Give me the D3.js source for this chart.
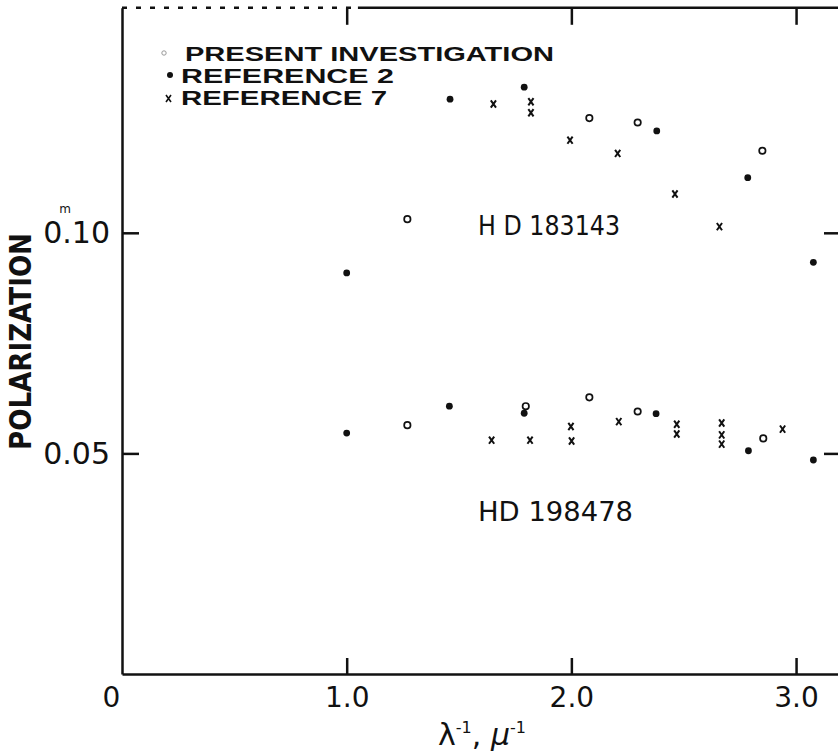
<!DOCTYPE html>
<html>
<head>
<meta charset="utf-8">
<script src="https://cdnjs.cloudflare.com/ajax/libs/d3/7.8.5/d3.min.js"></script>
<style>
  body { margin: 0; background: #fff; }
  svg { display: block; }
  .axis path, .axis line { stroke: #111; stroke-width: 2.5; }
  .axis text { font-family: "DejaVu Sans", sans-serif; fill: #111; }
</style>
</head>
<body>
<div id="chart"></div>
<script>
// HD 183143 (upper group)  [inverse wavelength, polarization]
const hd183143Present = [[1.27, 0.1031], [2.08, 0.1260], [2.295, 0.1250], [2.85, 0.1186]];
const hd183143Ref2 = [[1.00, 0.0909], [1.46, 0.1303], [1.79, 0.1330], [2.38, 0.1231], [2.785, 0.1125], [3.077, 0.0933]];
const hd183143Ref7 = [[1.653, 0.1292], [1.82, 0.1297], [1.82, 0.1272], [1.994, 0.1210], [2.206, 0.1180], [2.461, 0.1088], [2.659, 0.1014]];

// HD 198478 (lower group)
const hd198478Present = [[1.27, 0.0564], [1.797, 0.0607], [2.08, 0.0627], [2.295, 0.0595], [2.854, 0.0534]];
const hd198478Ref2 = [[1.00, 0.0546], [1.457, 0.0607], [1.79, 0.0591], [2.377, 0.0590], [2.788, 0.0506], [3.077, 0.0485]];
const hd198478Ref7 = [[1.645, 0.0530], [1.816, 0.0530], [1.998, 0.0561], [2.001, 0.0528], [2.211, 0.0572],
  [2.469, 0.0566], [2.469, 0.0544], [2.669, 0.0569], [2.669, 0.0542], [2.669, 0.0521], [2.94, 0.0555]];

const xTicks = [0, 1, 2, 3];
const xTickLabels = ['0', '1.0', '2.0', '3.0'];
const yTicks = [0.05, 0.10];
const yTickLabels = ['0.05', '0.10'];
const legendLabels = ['PRESENT INVESTIGATION', 'REFERENCE  2', 'REFERENCE  7'];

const width = 838, height = 754;
const svg = d3.select('#chart').append('svg')
  .attr('width', width)
  .attr('height', height);

const x = d3.scaleLinear().domain([0, 3.2]).range([122, 841]);
const y = d3.scaleLinear().domain([0, 0.151]).range([674, 7.8]);

// axes
const gx = svg.append('g').attr('class', 'axis')
  .attr('transform', `translate(0,${y(0)})`)
  .call(d3.axisBottom(x).tickValues(xTicks).tickSizeInner(-16).tickSizeOuter(0).tickPadding(13)
    .tickFormat((d, i) => xTickLabels[i]));
gx.selectAll('text').attr('font-size', 28)
  .attr('dx', d => d === 0 ? -11 : 0);
gx.selectAll('.tick').filter(d => d === 0).select('line').remove();

const gy = svg.append('g').attr('class', 'axis')
  .attr('transform', `translate(${x(0)},0)`)
  .call(d3.axisLeft(y).tickValues(yTicks).tickSizeInner(-17).tickSizeOuter(0).tickPadding(12)
    .tickFormat((d, i) => yTickLabels[i]));
gy.selectAll('text').attr('font-size', 30);
// superscript m over the decimal point of 0.10
gy.selectAll('.tick').filter(d => d === 0.10).append('text')
  .attr('x', -57).attr('y', -20)
  .attr('font-size', 12)
  .attr('text-anchor', 'middle')
  .text('m');

// top frame: ticks from the axis, border drawn separately (scan is broken on the left)
const gTop = svg.append('g').attr('class', 'axis')
  .attr('transform', `translate(0,${y(0.151)})`)
  .call(d3.axisTop(x).tickValues([1, 2, 3]).tickSizeInner(-17).tickSizeOuter(0).tickFormat(''));
gTop.select('.domain').remove();
gTop.selectAll('.tick line').attr('stroke', '#111').attr('stroke-width', 2.2);
gTop.append('line')
  .attr('x1', x(0)).attr('x2', x(1.05)).attr('y1', 0).attr('y2', 0)
  .attr('stroke', '#111').attr('stroke-width', 1.5).attr('stroke-dasharray', '5,9');
gTop.append('line')
  .attr('x1', x(1.05)).attr('x2', x(3.2)).attr('y1', 0).attr('y2', 0)
  .attr('stroke', '#111').attr('stroke-width', 2);

svg.append('g').attr('class', 'axis')
  .attr('transform', `translate(${x(3.2)},0)`)
  .call(d3.axisRight(y).tickValues(yTicks).tickSizeInner(-17).tickSizeOuter(0).tickFormat(''));

// axis titles
svg.append('text')
  .attr('transform', `translate(31,${(233 + 450) / 2}) rotate(-90)`)
  .attr('text-anchor', 'middle')
  .attr('font-family', 'DejaVu Sans, sans-serif')
  .attr('font-weight', 'bold')
  .attr('font-size', 30)
  .attr('textLength', 217)
  .attr('lengthAdjust', 'spacingAndGlyphs')
  .attr('fill', '#111')
  .text('POLARIZATION');

const xTitle = svg.append('text')
  .attr('x', 482).attr('y', 745)
  .attr('text-anchor', 'middle')
  .attr('font-family', 'DejaVu Sans, sans-serif')
  .attr('font-size', 30)
  .attr('fill', '#111');
xTitle.append('tspan').text('λ');
xTitle.append('tspan').attr('dy', -12).attr('font-size', 16).text('-1');
xTitle.append('tspan').attr('dy', 12).text(', ');
xTitle.append('tspan').attr('font-style', 'italic').text('μ');
xTitle.append('tspan').attr('dy', -12).attr('font-size', 16).text('-1');

// star labels
const starLabels = [
  { text: 'H D 183143', x: 478, y: 235, len: 142 },
  { text: 'HD 198478', x: 478, y: 521, len: 155 }
];
svg.selectAll('.star').data(starLabels).enter().append('text')
  .attr('x', d => d.x).attr('y', d => d.y)
  .attr('font-family', 'DejaVu Sans, sans-serif')
  .attr('font-size', 27)
  .attr('textLength', d => d.len)
  .attr('lengthAdjust', 'spacingAndGlyphs')
  .attr('fill', '#111')
  .text(d => d.text);

// marker drawing
const plot = svg.append('g');
function dots(data) {
  plot.append('g').selectAll('circle').data(data).enter().append('circle')
    .attr('cx', d => x(d[0])).attr('cy', d => y(d[1]))
    .attr('r', 3.4).attr('fill', '#111');
}
function rings(data) {
  plot.append('g').selectAll('circle').data(data).enter().append('circle')
    .attr('cx', d => x(d[0])).attr('cy', d => y(d[1]))
    .attr('r', 3.2).attr('fill', 'none').attr('stroke', '#111').attr('stroke-width', 1.7);
}
function crosses(data) {
  plot.append('g').selectAll('path').data(data).enter().append('path')
    .attr('d', d => {
      const cx = x(d[0]), cy = y(d[1]);
      return `M${cx - 2.6},${cy - 3.6}L${cx + 2.6},${cy + 3.6}M${cx + 2.6},${cy - 3.6}L${cx - 2.6},${cy + 3.6}`;
    })
    .attr('stroke', '#111').attr('stroke-width', 2).attr('fill', 'none');
}

dots(hd183143Ref2); rings(hd183143Present); crosses(hd183143Ref7);
dots(hd198478Ref2); rings(hd198478Present); crosses(hd198478Ref7);

// legend
const legend = svg.append('g');
const legendRows = [
  { y: 61, x: 185, len: 369 },
  { y: 83, x: 181, len: 213 },
  { y: 105, x: 181, len: 206 }
];
legend.selectAll('text').data(legendLabels).enter().append('text')
  .attr('x', (d, i) => legendRows[i].x).attr('y', (d, i) => legendRows[i].y)
  .attr('font-family', '"Liberation Sans", Arial, sans-serif')
  .attr('font-weight', 'bold')
  .attr('font-size', 21)
  .attr('textLength', (d, i) => legendRows[i].len)
  .attr('lengthAdjust', 'spacingAndGlyphs')
  .attr('fill', '#111')
  .text(d => d);
legend.append('circle').attr('cx', 164).attr('cy', 53).attr('r', 2.2)
  .attr('fill', 'none').attr('stroke', '#999').attr('stroke-width', 1);
legend.append('circle').attr('cx', 170).attr('cy', 75).attr('r', 3).attr('fill', '#111');
legend.append('path')
  .attr('d', 'M166,95L171,102M171,95L166,102')
  .attr('stroke', '#111').attr('stroke-width', 1.6);
</script>
</body>
</html>
